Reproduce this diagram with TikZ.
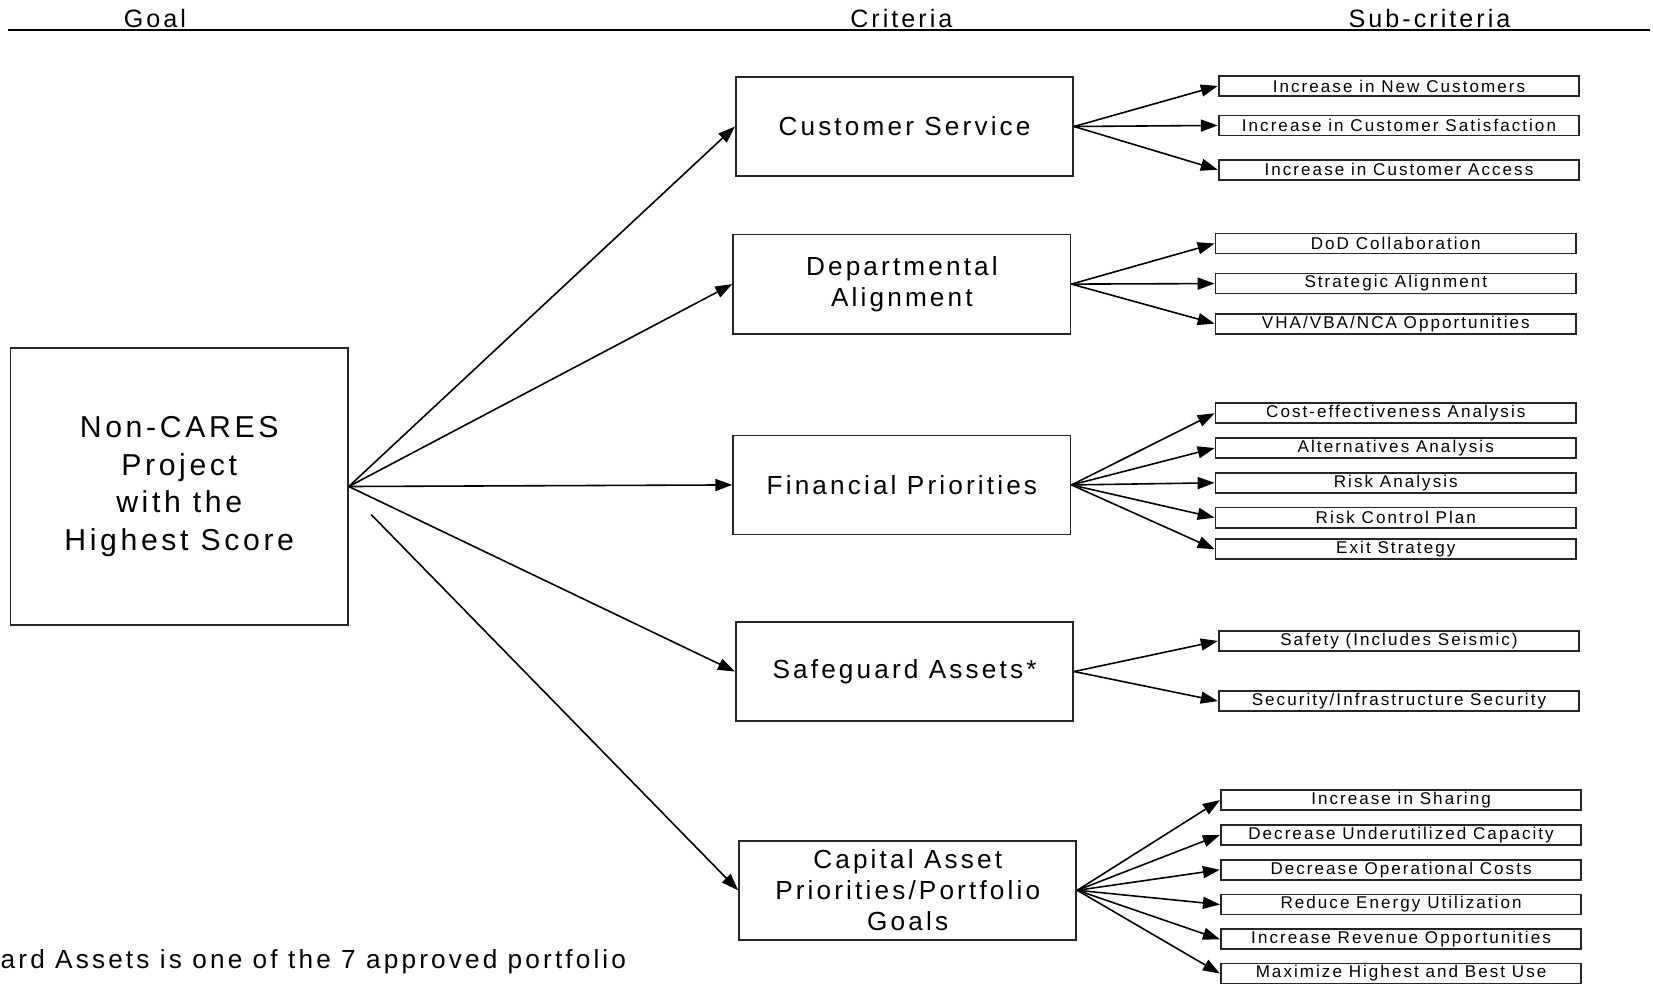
\documentclass[tikz,border=0pt]{standalone}
\usepackage{fontspec}
\setmainfont{Liberation Sans}[LetterSpace=12]
\usetikzlibrary{arrows.meta}
\begin{document}
\begin{tikzpicture}[x=0.010542cm,y=-0.010542cm,
  box/.style={draw=black!85, line width=0.5pt, inner sep=0pt, align=center},
  crit/.style={box, minimum width=320*0.010542cm, minimum height=94*0.010542cm, font=\fontsize{7.45}{8.9}\selectfont},
  sub/.style={box, minimum width=342*0.010542cm, minimum height=19*0.010542cm, font=\fontsize{4.85}{5.2}\selectfont},
  arr/.style={line width=0.45pt, -{Triangle[length=0.17cm,width=0.12cm]}},
  hdr/.style={anchor=base, inner sep=0pt, font=\fontsize{7.15}{8.9}\selectfont}]
\useasboundingbox (0,0) rectangle (1568,933);
% header
\coordinate (hl) at (8,28.5);
\coordinate (hr) at (1565,28.5);
\draw[line width=0.6pt] (hl) -- (hr);
\node[hdr] (hgoal) at (147,26) {Goal};
\node[hdr] (hcrit) at (855,26) {Criteria};
\node[hdr] (hsub) at (1356,26) {Sub-criteria};
% goal
\node[box, minimum width=320*0.010542cm, minimum height=263*0.010542cm, font=\fontsize{8.6}{10.65}\selectfont] (goal) at (170,461.5) {Non-CARES\\Project\\with the\\Highest Score};
% criteria
\node[crit] (cs) at (858,120) {Customer Service};
\node[crit] (da) at (855.5,269.5) {Departmental\\Alignment};
\node[crit] (fp) at (855.5,460) {Financial Priorities};
\node[crit] (sa) at (858,637) {Safeguard Assets*};
\node[crit] (cap) at (861,844.5) {Capital Asset\\Priorities/Portfolio\\Goals};
% goal arrows
\draw[arr] (goal.east) -- (cs.west);
\draw[arr] (goal.east) -- (da.west);
\draw[arr] (goal.east) -- (fp.west);
\draw[arr] (goal.east) -- (sa.west);
\coordinate (capstart) at (352,488);
\draw[arr] (capstart) -- (cap.west);
% sub-criteria: customer service
\node[sub] (cs1) at (1327,81.5) {Increase in New Customers};
\node[sub] (cs2) at (1327,119) {Increase in Customer Satisfaction};
\node[sub] (cs3) at (1327,161) {Increase in Customer Access};
\foreach \s in {cs1,cs2,cs3} \draw[arr] (cs.east) -- (\s.west);
% departmental
\node[sub] (da1) at (1324,231) {DoD Collaboration};
\node[sub] (da2) at (1324,269) {Strategic Alignment};
\node[sub] (da3) at (1324,307) {VHA/VBA/NCA Opportunities};
\foreach \s in {da1,da2,da3} \draw[arr] (da.east) -- (\s.west);
% financial
\node[sub] (fp1) at (1324,392) {Cost-effectiveness Analysis};
\node[sub] (fp2) at (1324,425) {Alternatives Analysis};
\node[sub] (fp3) at (1324,458) {Risk Analysis};
\node[sub] (fp4) at (1324,491) {Risk Control Plan};
\node[sub] (fp5) at (1324,521) {Exit Strategy};
\foreach \s in {fp1,fp2,fp3,fp4,fp5} \draw[arr] (fp.east) -- (\s.west);
% safeguard
\node[sub] (sa1) at (1327,608) {Safety (Includes Seismic)};
\node[sub] (sa2) at (1327,665) {Security/Infrastructure Security};
\foreach \s in {sa1,sa2} \draw[arr] (sa.east) -- (\s.west);
% capital asset
\node[sub] (ca1) at (1329,759) {Increase in Sharing};
\node[sub] (ca2) at (1329,792) {Decrease Underutilized Capacity};
\node[sub] (ca3) at (1329,825) {Decrease Operational Costs};
\node[sub] (ca4) at (1329,858) {Reduce Energy Utilization};
\node[sub] (ca5) at (1329,891) {Increase Revenue Opportunities};
\node[sub] (ca6) at (1329,923.5) {Maximize Highest and Best Use};
\foreach \s in {ca1,ca2,ca3,ca4,ca5,ca6} \draw[arr] (cap.east) -- (\s.west);
% note
\node[anchor=base west, inner sep=0pt, font=\fontsize{7.45}{8.9}\selectfont] (note) at (0,919) {ard Assets is one of the 7 approved portfolio};
\end{tikzpicture}
\end{document}
